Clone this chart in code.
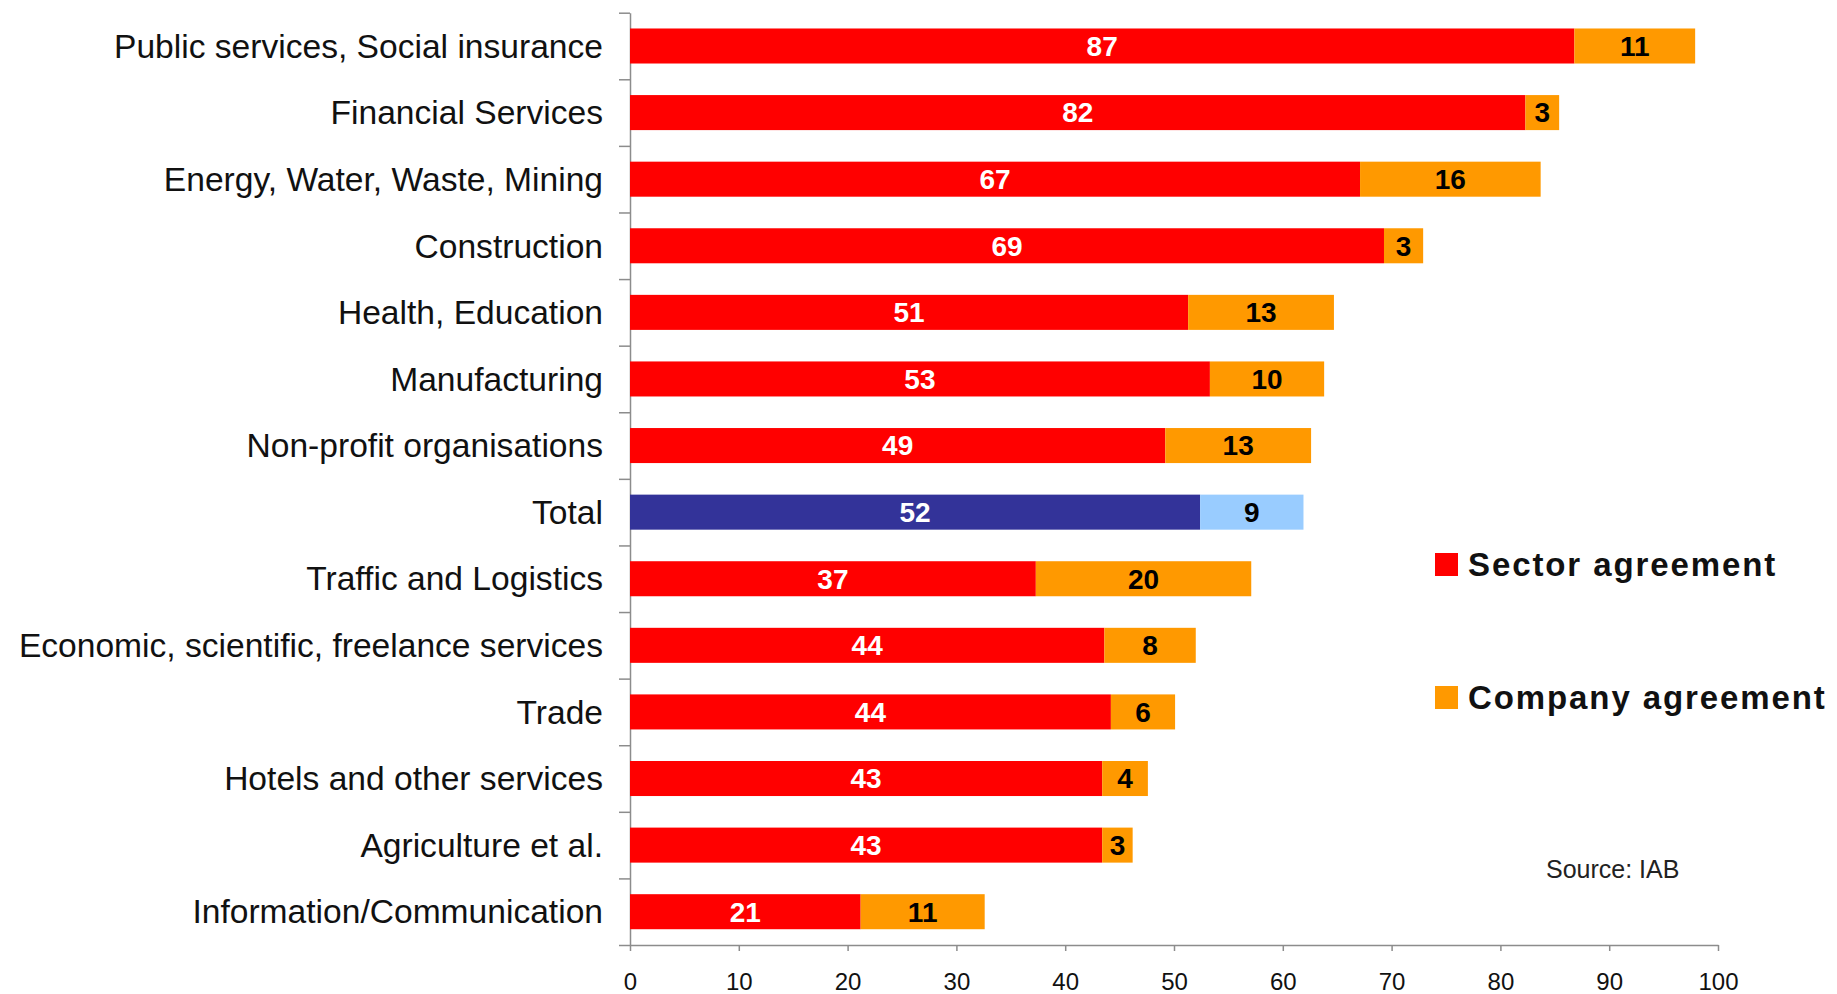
<!DOCTYPE html>
<html>
<head>
<meta charset="utf-8">
<script src="https://cdn.jsdelivr.net/npm/d3@7"></script>
<style>
	body { margin: 0; background: #fff; }
	svg { display: block; }
	text { font-family: "Liberation Sans", Arial, Helvetica, sans-serif; }
</style>
</head>
<body>
<div id="chart"></div>
<script>
// ---------- DATA ----------
const categories = [
	"Public services, Social insurance",
	"Financial Services",
	"Energy, Water, Waste, Mining",
	"Construction",
	"Health, Education",
	"Manufacturing",
	"Non-profit organisations",
	"Total",
	"Traffic and Logistics",
	"Economic, scientific, freelance services",
	"Trade",
	"Hotels and other services",
	"Agriculture et al.",
	"Information/Communication",
];
// bar lengths
const sectorAgreement = [86.8, 82.3, 67.1, 69.3, 51.3, 53.3, 49.2, 52.4, 37.3, 43.6, 44.2, 43.4, 43.4, 21.2];
const companyAgreement = [11.1, 3.1, 16.6, 3.6, 13.4, 10.5, 13.4, 9.5, 19.8, 8.4, 5.9, 4.2, 2.8, 11.4];
// printed labels
const sectorLabels = [87, 82, 67, 69, 51, 53, 49, 52, 37, 44, 44, 43, 43, 21];
const companyLabels = [11, 3, 16, 3, 13, 10, 13, 9, 20, 8, 6, 4, 3, 11];
const xTicks = [0, 10, 20, 30, 40, 50, 60, 70, 80, 90, 100];
const seriesNames = ["Sector agreement", "Company agreement"];

const colorDef = {
	red: "#ff0000",
	orange: "#ff9900",
	navy: "#333399",
	lightBlue: "#99ccff",
	axis: "#8c8c8c",
};

const size = { w: 1837, h: 994 };
const margin = { top: 12.7, right: 119, bottom: 49, left: 630 };

const rows = categories.map((c, i) => ({
	cat: c,
	sector: sectorAgreement[i],
	company: companyAgreement[i],
	sectorLabel: sectorLabels[i],
	companyLabel: companyLabels[i],
}));

const svg = d3
	.select("#chart")
	.append("svg")
	.attr("width", size.w)
	.attr("height", size.h);

const xScale = d3
	.scaleLinear()
	.domain([0, 100])
	.range([margin.left, size.w - margin.right]);

const yScale = d3
	.scaleBand()
	.domain(categories)
	.range([margin.top, size.h - margin.bottom])
	.paddingInner(0.474)
	.paddingOuter(0.237);

// boundary ticks on the y axis
const yIdx = d3
	.scaleLinear()
	.domain([0, categories.length])
	.range([margin.top, size.h - margin.bottom]);

const yAxis = svg
	.append("g")
	.attr("transform", `translate(${margin.left},0)`)
	.call(
		d3
			.axisLeft(yIdx)
			.tickValues(d3.range(categories.length + 1))
			.tickSize(11)
			.tickSizeOuter(0)
			.tickFormat("")
	);
yAxis.selectAll("line, path").attr("stroke", colorDef.axis).attr("stroke-width", 1.5);

// category labels
svg
	.append("g")
	.selectAll("text")
	.data(rows)
	.join("text")
	.attr("x", 603)
	.attr("y", (d) => yScale(d.cat) + yScale.bandwidth() / 2)
	.attr("dy", "0.35em")
	.attr("text-anchor", "end")
	.attr("font-size", 33.6)
	.attr("fill", "#111")
	.text((d) => d.cat);

// x axis
const xAxis = svg
	.append("g")
	.attr("transform", `translate(0,${size.h - margin.bottom})`)
	.call(
		d3
			.axisBottom(xScale)
			.tickValues(xTicks)
			.tickSizeInner(6)
			.tickSizeOuter(0)
			.tickPadding(22)
	);
xAxis.selectAll("line, path").attr("stroke", colorDef.axis).attr("stroke-width", 1.5);
xAxis
	.selectAll("text")
	.attr("font-size", 24)
	.attr("fill", "#111")
	.attr("font-family", "Liberation Sans, Arial, sans-serif");

// bars
const barG = svg.append("g");
barG
	.selectAll("rect.sector")
	.data(rows)
	.join("rect")
	.attr("class", "sector")
	.attr("x", xScale(0))
	.attr("y", (d) => yScale(d.cat))
	.attr("width", (d) => xScale(d.sector) - xScale(0))
	.attr("height", yScale.bandwidth())
	.attr("fill", (d) => (d.cat === "Total" ? colorDef.navy : colorDef.red));

barG
	.selectAll("rect.company")
	.data(rows)
	.join("rect")
	.attr("class", "company")
	.attr("x", (d) => xScale(d.sector))
	.attr("y", (d) => yScale(d.cat))
	.attr("width", (d) => xScale(d.sector + d.company) - xScale(d.sector))
	.attr("height", yScale.bandwidth())
	.attr("fill", (d) => (d.cat === "Total" ? colorDef.lightBlue : colorDef.orange));

// value labels
const labelG = svg
	.append("g")
	.attr("font-size", 28)
	.attr("font-weight", "bold")
	.attr("text-anchor", "middle");
labelG
	.selectAll("text.sector")
	.data(rows)
	.join("text")
	.attr("class", "sector")
	.attr("x", (d) => (xScale(0) + xScale(d.sector)) / 2)
	.attr("y", (d) => yScale(d.cat) + yScale.bandwidth() / 2)
	.attr("dy", "0.35em")
	.attr("fill", "#fff")
	.text((d) => d.sectorLabel);
labelG
	.selectAll("text.company")
	.data(rows)
	.join("text")
	.attr("class", "company")
	.attr("x", (d) => (xScale(d.sector) + xScale(d.sector + d.company)) / 2)
	.attr("y", (d) => yScale(d.cat) + yScale.bandwidth() / 2)
	.attr("dy", "0.35em")
	.attr("fill", "#000")
	.text((d) => d.companyLabel);

// legend
const legend = svg.append("g").attr("transform", "translate(1435,553)");
const legendItem = legend
	.selectAll("g")
	.data(seriesNames)
	.join("g")
	.attr("transform", (d, i) => `translate(0,${i * 133})`);
legendItem
	.append("rect")
	.attr("width", 23)
	.attr("height", 23)
	.attr("fill", (d, i) => (i === 0 ? colorDef.red : colorDef.orange));
legendItem
	.append("text")
	.attr("x", 33)
	.attr("y", 23)
	.attr("font-size", 33)
	.attr("font-weight", "bold")
	.attr("letter-spacing", 1.9)
	.attr("fill", "#111")
	.text((d) => d);

// source note
svg
	.append("text")
	.attr("x", 1546)
	.attr("y", 878)
	.attr("font-size", 25)
	.attr("fill", "#222")
	.text("Source: IAB");
</script>
</body>
</html>
